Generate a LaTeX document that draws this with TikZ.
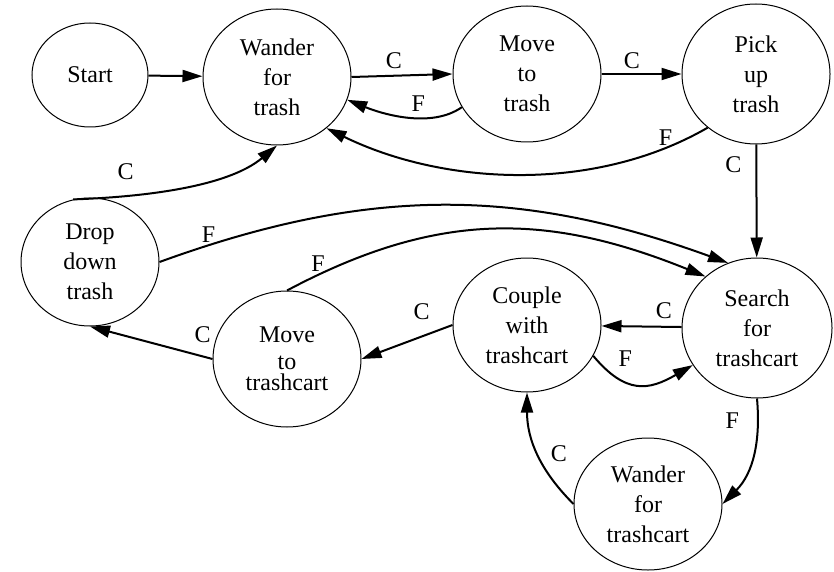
\documentclass[tikz,border=0pt]{standalone}
\usepackage{fontspec}
\setmainfont{Liberation Serif}
\usetikzlibrary{arrows.meta,shapes.geometric}

\tikzset{
  stnode/.style={draw,ellipse,line width=0.5pt,inner sep=0pt,
    minimum width=74pt,minimum height=68pt,align=center},
  arr/.style={line width=1pt,-{Triangle[length=10pt,width=6pt]}},
  lbl/.style={inner sep=1pt}
}

\begin{document}
\begin{tikzpicture}[x=0.5pt,y=-0.5pt,font=\rmfamily\fontsize{12}{15}\selectfont]
            \useasboundingbox (0,0) rectangle (834,572);

            \node[stnode,minimum width=58pt,minimum height=52pt] (st) at (90,75) {Start};
            \node[stnode] (wt) at (277,77) {Wander\\for\\trash};
            \node[stnode] (mt) at (527,74) {Move\\to\\trash};
            \node[stnode,minimum height=70pt] (pu) at (756,74) {Pick\\up\\trash};
            \node[stnode,minimum width=69pt,minimum height=64pt] (dd) at (90,262) {Drop\\down\\trash};
            \node[stnode] (mc) at (287,359) {Move\\[-1.5pt]to\\[-4.5pt]trashcart};
            \node[stnode,minimum height=67pt] (cw) at (527,325) {Couple\\with\\trashcart};
            \node[stnode,minimum width=75pt,minimum height=70pt] (sc) at (757,328) {Search\\for\\trashcart};
            \node[stnode,minimum height=66pt] (wc) at (648,504) {Wander\\for\\trashcart};

            \draw[arr](st)--(wt);
            \draw[arr](wt.east)--node[lbl,pos=.42,above=2pt]{C}(mt.west);
            \draw[arr](mt.207)to[out=215,in=-22,looseness=.84]node[lbl,pos=.4,above=2pt]{F}(wt.-18);
            \draw[arr](mt.east)--node[lbl,pos=.38,above=1pt]{C}(pu.west);
            \draw[arr](pu.228)to[out=210,in=-26,looseness=.88]node[lbl,pos=.12,above]{F}(wt.-46);
            \draw[arr](pu)--node[lbl,pos=.18,left=6pt]{C}(sc);

            \draw[arr](dd.105)to[out=2,in=220,looseness=.8]node[lbl,pos=.25,above=6.5pt]{C}(wt.south);
            \draw[arr](dd.east)to[out=20,in=160,looseness=1]node[lbl,pos=.08,above]{F}(sc.114);
            \draw[arr](mc.north)to[out=28,in=158,looseness=1.04]node[lbl,pos=.07,above]{F}(sc.135);

            \draw[arr](sc)--node[lbl,pos=.22,above=2.5pt]{C}(cw);
            \draw[arr](cw.west)--node[lbl,pos=.34,above=7pt]{C}(mc.east);
            \draw[arr](mc.west)--node[lbl,pos=.08,above=5.5pt]{C}(dd.south);
            \draw[arr](cw.-25)to[out=-50,in=210,looseness=1.3]node[lbl,pos=.35,above=6pt]{F}(sc.210);
            \draw[arr](sc.south)to[out=-85,in=45,looseness=1]node[lbl,pos=.18,left=8pt]{F}(wc.east);
            \draw[arr](wc.west)to[out=135,in=-90,looseness=1]node[lbl,pos=.5,right=5pt]{C}(cw.south);

        \end{tikzpicture}
\end{document}
